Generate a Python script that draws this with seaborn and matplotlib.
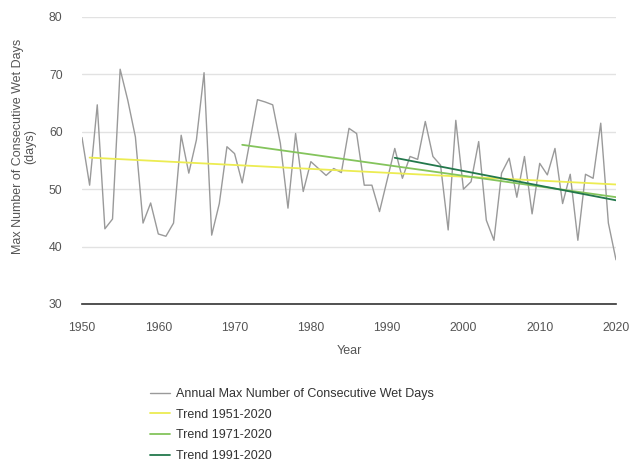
import matplotlib
matplotlib.use("Agg")
import matplotlib.pyplot as plt
import seaborn as sns
import numpy as np
import pandas as pd

years = list(range(1950, 2021))
wet_days = [59.0, 50.7, 64.7, 43.1, 44.8, 70.9, 65.5, 59.1, 44.1, 47.6,
            42.2, 41.8, 44.1, 59.4, 52.8, 58.6, 70.3, 42.0, 47.5, 57.4,
            56.2, 51.1, 58.3, 65.6, 65.2, 64.7, 58.0, 46.7, 59.7, 49.6,
            54.8, 53.6, 52.4, 53.6, 52.9, 60.6, 59.7, 50.7, 50.7, 46.1,
            51.6, 57.1, 51.9, 55.7, 55.2, 61.8, 55.7, 54.2, 42.9, 62.0,
            50.0, 51.3, 58.3, 44.6, 41.1, 52.8, 55.4, 48.6, 55.7, 45.7,
            54.5, 52.5, 57.1, 47.5, 52.6, 41.1, 52.6, 51.9, 61.5, 44.1,
            37.7]
series_label = "Annual Max Number of Consecutive Wet Days"
trend_periods = [(1951, 2020), (1971, 2020), (1991, 2020)]
trend_labels = ["Trend 1951-2020", "Trend 1971-2020", "Trend 1991-2020"]
trend_colors = ["#ecec52", "#84c45c", "#23784c"]
x_ticks = [1950, 1960, 1970, 1980, 1990, 2000, 2010, 2020]
y_ticks = [30, 40, 50, 60, 70, 80]

df = pd.DataFrame({"Year": years, "Value": wet_days})

sns.set_style("white")
plt.rcParams["font.family"] = ["Liberation Sans", "DejaVu Sans"]

W, H = 632, 463
fig = plt.figure(figsize=(W / 100, H / 100), dpi=100)
left, right, top, bottom = 82, 616, 17, 304
ax = fig.add_axes([left / W, 1 - bottom / H, (right - left) / W, (bottom - top) / H])

sns.lineplot(data=df, x="Year", y="Value", ax=ax, color="#9a9a9a",
             linewidth=1.0, label=series_label)

for (a, b), lab, col in zip(trend_periods, trend_labels, trend_colors):
    sub = df[(df["Year"] >= a) & (df["Year"] <= b)]
    sns.regplot(data=sub, x="Year", y="Value", ax=ax, scatter=False, ci=None,
                truncate=True, label=lab, line_kws={"color": col, "linewidth": 1.3})

ax.set_xlim(1950, 2020)
ax.set_ylim(30, 80)
ax.set_xticks(x_ticks)
ax.set_yticks(y_ticks)
ax.yaxis.grid(True, color="#e2e2e2", linewidth=1.0)
ax.xaxis.grid(False)
for s in ["top", "right", "left"]:
    ax.spines[s].set_visible(False)
ax.spines["bottom"].set_color("#333333")
ax.spines["bottom"].set_linewidth(1.2)
ax.set_axisbelow(True)
ax.tick_params(axis="both", length=0, labelsize=8.8, labelcolor="#555555")
ax.tick_params(axis="y", pad=14)
ax.tick_params(axis="x", pad=13)

ax.set_xlabel("Year", fontsize=9, color="#555555", labelpad=8)
ax.set_ylabel("Max Number of Consecutive Wet Days\n(days)", fontsize=9,
              color="#555555", labelpad=8, linespacing=1.05)
ax.yaxis.set_label_coords(-0.085, 0.55)

handles, labels = ax.get_legend_handles_labels()
if ax.get_legend() is not None:
    ax.get_legend().remove()
fig.legend(handles, labels, loc="upper left", bbox_to_anchor=(150 / W, 1 - 388 / H),
           frameon=False, fontsize=9, handlelength=1.6, handletextpad=0.5,
           labelspacing=0.7, borderpad=0, borderaxespad=0, labelcolor="#333333")

fig.savefig("out.png", dpi=100)
